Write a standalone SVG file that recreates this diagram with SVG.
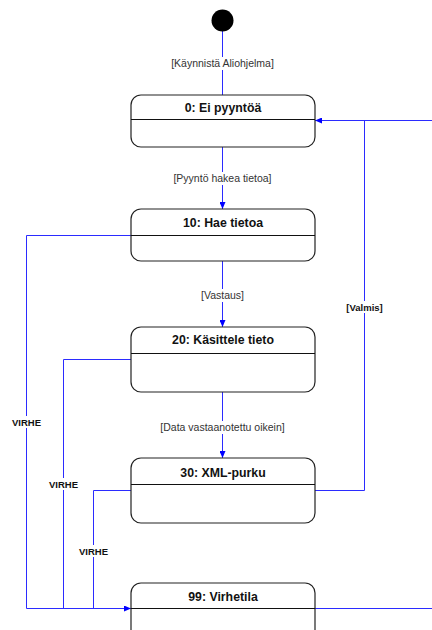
<svg xmlns="http://www.w3.org/2000/svg" width="432" height="630" viewBox="0 0 432 630">
<style>
.box{fill:#fff;stroke:#222;stroke-width:1.2}
.div{stroke:#111;stroke-width:1}
.ttl{font-family:"Liberation Sans",Arial,sans-serif;font-weight:bold;font-size:12.3px;fill:#111;text-anchor:middle}
.lbl{font-family:"Liberation Sans",Arial,sans-serif;font-size:10.5px;fill:#333;text-anchor:middle}
.blbl{font-family:"Liberation Sans",Arial,sans-serif;font-weight:bold;font-size:9.5px;fill:#111;text-anchor:middle}
.c{fill:none;stroke:#2b2bff;stroke-width:1}
.bg{fill:#fff}
</style>
<defs>
<marker id="ah" markerWidth="7" markerHeight="6" refX="7" refY="3" orient="auto" markerUnits="userSpaceOnUse">
<path d="M0,0 L7,3 L0,6 z" fill="#0000ff"/>
</marker>
</defs>
<g id="connectors">
<path class="c" d="M222.5,31 V95"/>
<path class="c" d="M222.5,147 V209" marker-end="url(#ah)"/>
<path class="c" d="M222.5,261 V327" marker-end="url(#ah)"/>
<path class="c" d="M222.5,392 V458" marker-end="url(#ah)"/>
<path class="c" d="M131,235.5 H26.5 V608.5 H131" marker-end="url(#ah)"/>
<path class="c" d="M131,359.5 H63.5 V608.5"/>
<path class="c" d="M131,490.5 H93.5 V608.5"/>
<path class="c" d="M315,490.5 H364.5 V120.5"/>
<path class="c" d="M432,120.5 H315" marker-end="url(#ah)"/>
<path class="c" d="M315,608.5 H432"/>
<rect class="bg" x="164" y="57" width="118" height="13"/>
<text class="lbl" x="222.5" y="67">[Käynnistä Aliohjelma]</text>
<rect class="bg" x="167" y="172" width="112" height="13"/>
<text class="lbl" x="222.5" y="182">[Pyyntö hakea tietoa]</text>
<rect class="bg" x="196" y="289" width="54" height="13"/>
<text class="lbl" x="222.5" y="299">[Vastaus]</text>
<rect class="bg" x="150" y="421" width="146" height="13"/>
<text class="lbl" x="222.5" y="431">[Data vastaanotettu oikein]</text>
<rect class="bg" x="340" y="301" width="48" height="12"/>
<text class="blbl" x="364.5" y="310.5">[Valmis]</text>
<rect class="bg" x="8" y="416" width="36" height="12"/>
<text class="blbl" x="26.5" y="425.5">VIRHE</text>
<rect class="bg" x="45" y="478" width="36" height="12"/>
<text class="blbl" x="63.5" y="487.5">VIRHE</text>
<rect class="bg" x="75" y="545" width="36" height="12"/>
<text class="blbl" x="93.5" y="554.5">VIRHE</text>
</g>
<g id="start">
<circle cx="222.5" cy="20.5" r="11" fill="#000"/>
</g>
<g id="s0">
<rect class="box" x="131" y="95" width="184" height="52" rx="10"/>
<line class="div" x1="131" y1="119.5" x2="315" y2="119.5"/>
<text class="ttl" x="223" y="112">0: Ei pyyntöä</text>
</g>
<g id="s10">
<rect class="box" x="131" y="209" width="184" height="52" rx="10"/>
<line class="div" x1="131" y1="235.5" x2="315" y2="235.5"/>
<text class="ttl" x="223" y="227">10: Hae tietoa</text>
</g>
<g id="s20">
<rect class="box" x="131" y="327" width="184" height="65" rx="10"/>
<line class="div" x1="131" y1="353.5" x2="315" y2="353.5"/>
<text class="ttl" x="223" y="343.5">20: Käsittele tieto</text>
</g>
<g id="s30">
<rect class="box" x="131" y="458" width="184" height="65" rx="10"/>
<line class="div" x1="131" y1="484.5" x2="315" y2="484.5"/>
<text class="ttl" x="223" y="477">30: XML-purku</text>
</g>
<g id="s99">
<rect class="box" x="131" y="583" width="184" height="65" rx="10"/>
<line class="div" x1="131" y1="608.5" x2="315" y2="608.5"/>
<text class="ttl" x="223" y="601">99: Virhetila</text>
</g>
</svg>
